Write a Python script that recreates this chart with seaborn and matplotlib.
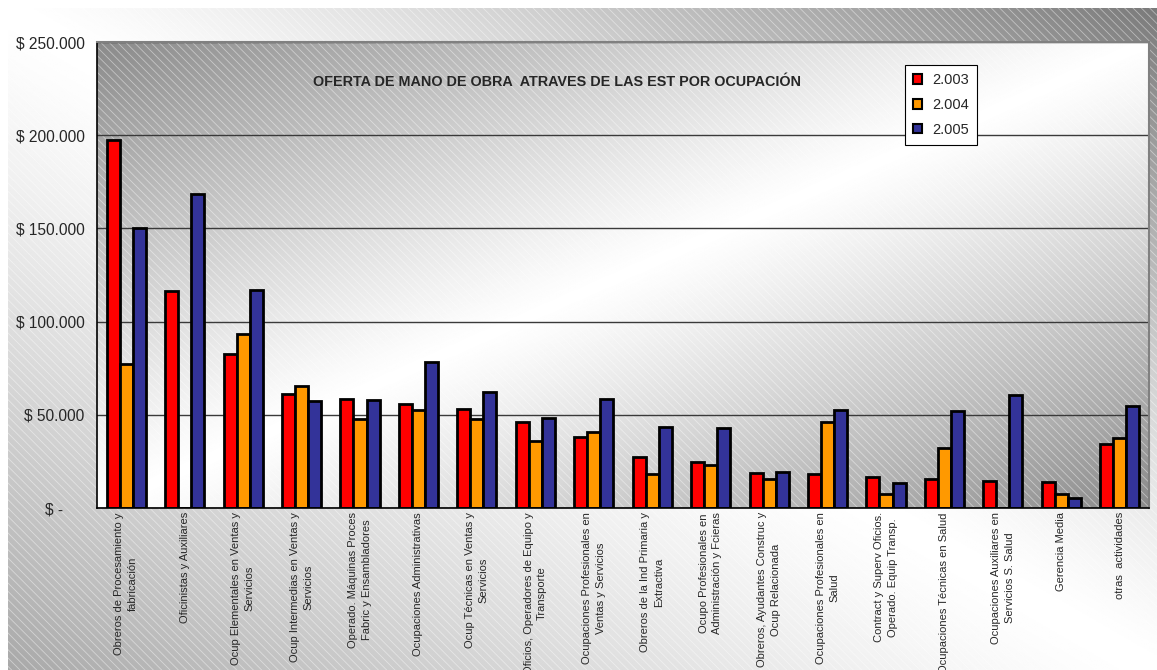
import numpy as np
import pandas as pd
import matplotlib
matplotlib.use("Agg")
import matplotlib.pyplot as plt
from matplotlib.patches import Rectangle, Patch
from matplotlib.ticker import FuncFormatter
import seaborn as sns

# Occupations (x categories) and yearly labour supply per occupation
ocupaciones = [
    "Obreros de Procesamiento y\nfabricación",
    "Oficinistas y Auxiliares",
    "Ocup Elementales en Ventas y\nServicios",
    "Ocup Intermedias en Ventas y\nServicios",
    "Operado. Máquinas Proces\nFabric y Ensambladores",
    "Ocupaciones Administrativas",
    "Ocup Técnicas en Ventas y\nServicios",
    "Oficios, Operadores de Equipo y\nTransporte",
    "Ocupaciones Profesionales en\nVentas y Servicios",
    "Obreros de la Ind Primaria y\nExtractiva",
    "Ocupo Profesionales en\nAdministración y Fcieras",
    "Obreros, Ayudantes Construc y\nOcup Relacionada",
    "Ocupaciones Profesionales en\nSalud",
    "Contract y Superv Oficios.\nOperado. Equip Transp.",
    "Ocupaciones Técnicas en Salud",
    "Ocupaciones Auxiliares en\nServicios S. Salud",
    "Gerencia Media",
    "otras  actividades",
]
anios = ["2.003", "2.004", "2.005"]
oferta_2003 = [197300, 116600, 82500, 61000, 58300, 56000, 53000, 46000, 37900,
               27500, 24800, 18800, 18100, 16600, 15700, 14300, 13900, 34300]
oferta_2004 = [77400, 0, 93600, 65500, 48000, 52600, 47600, 35800, 41000,
               18400, 23200, 15400, 46000, 7300, 32200, 0, 7300, 37700]
oferta_2005 = [150400, 168300, 116800, 57600, 58100, 78300, 62200, 48100, 58700,
               43600, 42700, 19300, 52400, 13400, 51900, 60600, 5500, 54700]
colores = ["#FF0000", "#FF9900", "#333399"]
titulo = "OFERTA DE MANO DE OBRA  ATRAVES DE LAS EST POR OCUPACIÓN"
y_ticks = [0, 50000, 100000, 150000, 200000, 250000]

df = pd.DataFrame({
    "ocupacion": ocupaciones * 3,
    "anio": [a for a in anios for _ in ocupaciones],
    "oferta": oferta_2003 + oferta_2004 + oferta_2005,
})

sns.set_style("white")
plt.rcParams["font.family"] = ["Liberation Sans", "DejaVu Sans"]
plt.rcParams["hatch.linewidth"] = 0.6

W, H = 1157, 670
fig = plt.figure(figsize=(W / 100, H / 100), dpi=100)
fig.patch.set_facecolor("white")


def box(left, top, right, bottom):
    return [left / W, 1 - bottom / H, (right - left) / W, (bottom - top) / H]


n = 500
u, v = np.meshgrid(np.linspace(0, 1, n), np.linspace(0, 1, n))

# Chart area: light along the top-left/bottom-right diagonal,
# darker towards the top-right than towards the bottom-left
bg = fig.add_axes(box(8, 8, W, H), zorder=0)
bg.set_axis_off()
d = u - v
shade_bg = np.where(d > 0, 1 - 0.52 * np.abs(d) ** 1.3, 1 - 0.34 * np.abs(d) ** 1.3)
bg.imshow(shade_bg, cmap="gray", vmin=0, vmax=1, aspect="auto",
          extent=[0, 1, 0, 1], origin="upper", interpolation="bilinear")
bg.add_patch(Rectangle((0, 0), 1, 1, transform=bg.transAxes, fill=False,
                       hatch="\\\\\\\\", edgecolor=(1, 1, 1, 0.45), lw=0))
bg.set_xlim(0, 1)
bg.set_ylim(0, 1)

plot_box = box(97, 42, 1149, 508)

# Plot area: light along the bottom-left/top-right diagonal
pbg = fig.add_axes(plot_box, zorder=1)
pbg.set_axis_off()
s = np.abs(u + v - 1)
shade_plot = 1 - 0.46 * s ** 1.15
pbg.imshow(shade_plot, cmap="gray", vmin=0, vmax=1, aspect="auto",
           extent=[0, 1, 0, 1], origin="upper", interpolation="bilinear")
pbg.add_patch(Rectangle((0, 0), 1, 1, transform=pbg.transAxes, fill=False,
                        hatch="\\\\\\\\", edgecolor=(1, 1, 1, 0.45), lw=0))
pbg.set_xlim(0, 1)
pbg.set_ylim(0, 1)

ax = fig.add_axes(plot_box, zorder=2)
ax.patch.set_alpha(0)

sns.barplot(data=df, x="ocupacion", y="oferta", hue="anio",
            order=ocupaciones, hue_order=anios, palette=colores,
            saturation=1, width=0.67, edgecolor="black", linewidth=2,
            errorbar=None, legend=False, ax=ax)

ax.set_xlim(-0.5, len(ocupaciones) - 0.5)
ax.set_ylim(0, 250000)
ax.set_xlabel("")
ax.set_ylabel("")

ax.set_yticks(y_ticks)
ax.yaxis.set_major_formatter(
    FuncFormatter(lambda val, pos: "$ -     " if val == 0
                  else "$ " + f"{val:,.0f}".replace(",", ".")))
ax.tick_params(axis="y", direction="out", length=5, width=1, color="black",
               labelsize=11.2, pad=4)
ax.yaxis.grid(True, color="#3a3a3a", lw=1)
ax.set_axisbelow(True)

ax.set_xticks(range(len(ocupaciones)))
ax.set_xticklabels(ocupaciones, rotation=90, fontsize=8, va="top",
                   ha="center", multialignment="center", linespacing=1.45)
ax.tick_params(axis="x", which="major", length=0, pad=3)
ax.set_xticks(np.arange(-0.5, len(ocupaciones), 1), minor=True)
ax.tick_params(axis="x", which="minor", direction="out", length=5, width=1,
               color="black")

for side in ("left", "bottom"):
    ax.spines[side].set_color("black")
    ax.spines[side].set_linewidth(1.2)
for side in ("top", "right"):
    ax.spines[side].set_color("#808080")
    ax.spines[side].set_linewidth(1.5)

ax.text(0.437, 0.914, titulo, transform=ax.transAxes, ha="center",
        va="center", fontsize=10.4, fontweight="bold")

handles = [Patch(facecolor=c, edgecolor="black", linewidth=1.5) for c in colores]
leg = ax.legend(handles, anios, loc="upper left", bbox_to_anchor=(0.768, 0.951),
                frameon=True, fancybox=False, edgecolor="black", framealpha=1,
                fontsize=10.5, handlelength=0.65, handleheight=0.65,
                handletextpad=0.7, labelspacing=0.75, borderpad=0.55,
                borderaxespad=0)
leg.get_frame().set_linewidth(0.8)

fig.savefig("out.png", dpi=100)
